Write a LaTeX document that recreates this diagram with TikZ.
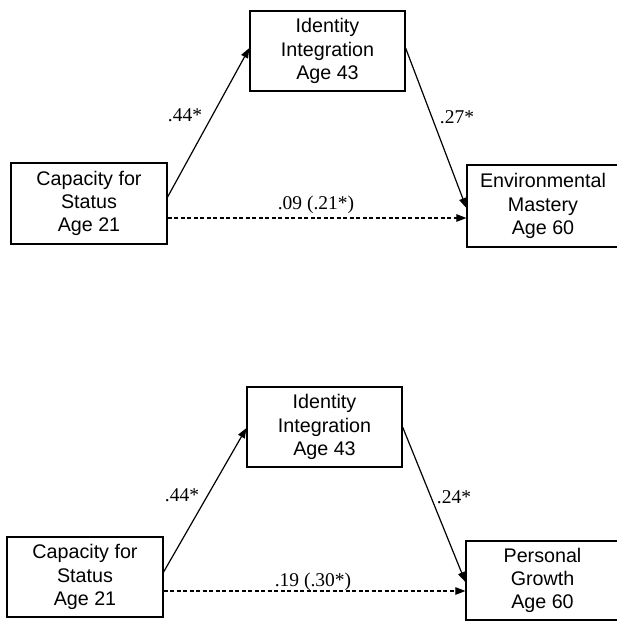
\documentclass[tikz,border=0pt]{standalone}
\usepackage{fontspec}
\setmainfont{Liberation Serif}
\newfontfamily\boxfont{Liberation Sans}
\usetikzlibrary{arrows.meta}
\begin{document}
\begin{tikzpicture}[x=1pt,y=1pt,
  varbox/.style={draw=black,line width=1.2pt,rectangle,inner sep=0pt,align=center,
    font=\boxfont\fontsize{19.7}{23.3}\selectfont},
  coef/.style={inner sep=0pt,font=\fontsize{19.5}{22}\selectfont},
  path/.style={line width=1.2pt,-{Triangle[length=10pt,width=7.5pt]}},
  direct/.style={line width=1.1pt,dash pattern=on 4pt off 2.5pt,-{Triangle[length=10pt,width=7.5pt]}}]
\useasboundingbox (0,0) rectangle (617,-621);
% ---------- top diagram ----------
\node[varbox,minimum width=155pt,minimum height=80pt] (I1) at (327.5,-51) {Identity\\Integration\\Age 43};
\node[varbox,minimum width=156pt,minimum height=81pt] (L1) at (89,-203.5) {Capacity for\\Status\\Age 21};
\node[varbox,minimum width=152pt,minimum height=82pt] (R1) at (543,-206) {Environmental\\Mastery\\Age 60};
\draw[path] ([yshift=6.5pt]L1.east) -- ([yshift=3pt]I1.west);
\draw[path] ([yshift=3pt]I1.east) -- ([yshift=-2pt]R1.west);
\draw[direct] ([yshift=-14.5pt]L1.east) -- ([yshift=-12pt]R1.west);
\node[coef] (a1) at (185,-115) {.44*};
\node[coef] (b1) at (457,-117) {.27*};
\node[coef] (c1) at (316,-205) {.09 (.21*)};
% ---------- bottom diagram ----------
\node[varbox,minimum width=155pt,minimum height=80pt] (I2) at (324.5,-427) {Identity\\Integration\\Age 43};
\node[varbox,minimum width=156pt,minimum height=80pt] (L2) at (85,-577) {Capacity for\\Status\\Age 21};
\node[varbox,minimum width=153pt,minimum height=79pt] (R2) at (542.5,-580.5) {Personal\\Growth\\Age 60};
\draw[path] ([yshift=5pt]L2.east) -- ([yshift=-1pt]I2.west);
\draw[path] (I2.east) -- ([yshift=-1.5pt]R2.west);
\draw[direct] ([yshift=-14pt]L2.east) -- ([yshift=-10.5pt]R2.west);
\node[coef] (a2) at (182,-495) {.44*};
\node[coef] (b2) at (454,-497) {.24*};
\node[coef] (c2) at (313,-582) {.19 (.30*)};
\end{tikzpicture}
\end{document}
